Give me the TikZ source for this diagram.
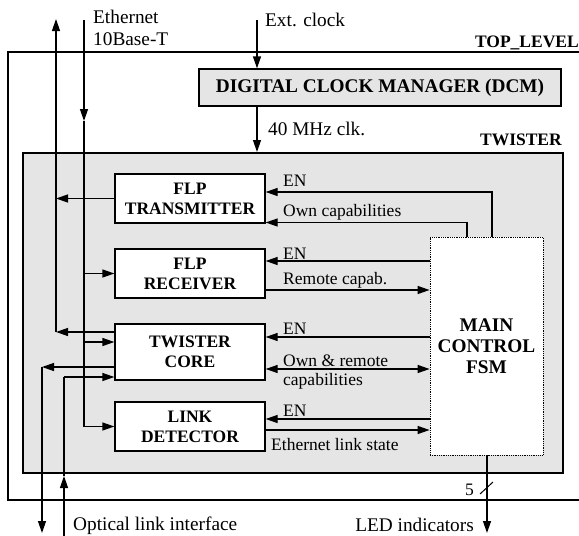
\documentclass[tikz,border=0pt]{standalone}
\usepackage{fontspec}
\setmainfont{Liberation Serif}
\usetikzlibrary{arrows.meta,calc}
\begin{document}
\begin{tikzpicture}[x=1pt,y=-1pt]
\tikzset{
 wire/.style={line width=1.3pt},
 arr/.style={line width=1.3pt,-{Triangle[length=12pt,width=8pt]}},
 dblarr/.style={line width=1.3pt,{Triangle[length=12pt,width=8pt]}-{Triangle[length=12pt,width=8pt]}},
 blk/.style={draw,line width=1.3pt,fill=white,minimum width=150pt,minimum height=49pt,inner sep=0pt,align=center,font=\bfseries\fontsize{17.5}{20}\selectfont},
 big/.style={font=\fontsize{19.3}{22}\selectfont,inner sep=0pt,anchor=base west},
 small/.style={font=\fontsize{17.5}{20}\selectfont,inner sep=0pt,anchor=base west},
 ttl/.style={font=\bfseries\fontsize{17.5}{20}\selectfont,inner sep=0pt,anchor=base east},
}
\useasboundingbox (0,0) rectangle (579,536);
% top level frame
\draw[wire] (581,52) -- (8,52) -- (8,500) -- (581,500);
\node[ttl] (toplbl) at (579,47) {TOP\_LEVEL};
% twister
\node[draw,line width=1.6pt,fill=gray!20,minimum width=540pt,minimum height=320pt,inner sep=0pt,anchor=north west] (TW) at (22,152) {};
\node[ttl] (twlbl) at (562,145.7) {TWISTER};
% DCM
\node[draw,line width=1.3pt,fill=gray!20,minimum width=362pt,minimum height=37pt,inner sep=0pt,font=\bfseries\fontsize{19.3}{22}\selectfont] (DCM) at (380,87.5) {DIGITAL CLOCK MANAGER (DCM)};
% blocks
\node[blk] (TX) at (190,198.5) {FLP\\TRANSMITTER};
\node[blk] (RX) at (190,273.5) {FLP\\RECEIVER};
\node[blk,minimum height=56pt] (CORE) at (190,352) {TWISTER\\CORE};
\node[blk] (LD) at (190,426.5) {LINK\\DETECTOR};
\node[draw,densely dotted,line width=0.8pt,fill=white,minimum width=113pt,minimum height=218pt,inner sep=0pt,align=center,font=\bfseries\fontsize{19.3}{21}\selectfont] (FSM) at (486.5,346) {MAIN\\CONTROL\\FSM};
% coordinates
\coordinate (ext) at (257,20);
\coordinate (ethup) at (56,19);
\coordinate (j1) at (56,332);
\coordinate (ethdn) at (84,20);
\coordinate (ethdnmid) at (84,121);
\coordinate (ethdnend) at (84,427);
\coordinate (o1) at (42,367);
\coordinate (optout) at (42,533);
\coordinate (optin) at (64,536);
\coordinate (optinmid) at (64,476);
\coordinate (o2) at (64,377);
\coordinate (led) at (487,533);
\coordinate (en1) at (492,192);
\coordinate (oc) at (467,222.5);
\coordinate (en2) at (0,261);
\coordinate (rc) at (0,290);
\coordinate (en3) at (0,337);
\coordinate (orc) at (0,369);
\coordinate (en4) at (0,419);
\coordinate (els) at (0,430);
\coordinate (c3) at (0,342);
% clock
\draw[arr] (ext) -- (ext |- DCM.north);
\draw[arr] (ext |- DCM.south) -- (ext |- TW.north);
% ethernet
\draw[arr] (ethdn) -- (ethdnmid);
\draw[wire] (ethdnmid) -- (ethdnend);
\draw[arr] (CORE.west |- j1) -- (j1);
\draw[arr] (j1) -- (ethup);
\draw[arr] (TX.west) -- (TX.west -| ethup);
\draw[arr] (RX.west -| ethdn) -- (RX.west);
\draw[arr] (ethdn |- c3) -- (CORE.west |- c3);
\draw[arr] (LD.west -| ethdn) -- (LD.west);
% optical
\draw[arr] (CORE.west |- o1) -- (o1);
\draw[arr] (o1) -- (optout);
\draw[arr] (optin) -- (optinmid);
\draw[wire] (optinmid) -- (o2);
\draw[arr] (o2) -- (CORE.west |- o2);
% FSM links
\draw[arr] (FSM.north -| en1) -- (en1) -- (TX.east |- en1);
\draw[arr] (FSM.north -| oc) -- (oc) -- (TX.east |- oc);
\draw[arr] (FSM.west |- en2) -- (RX.east |- en2);
\draw[arr] (RX.east |- rc) -- (FSM.west |- rc);
\draw[arr] (FSM.west |- en3) -- (CORE.east |- en3);
\draw[dblarr] (CORE.east |- orc) -- (FSM.west |- orc);
\draw[arr] (FSM.west |- en4) -- (LD.east |- en4);
\draw[arr] (LD.east |- els) -- (FSM.west |- els);
\draw[arr] (FSM.south -| led) -- (led);
\draw[line width=1pt] (480,494) -- (493,482);
% labels
\node[small] (l5) at (465,495.7) {5};
\node[small] (len1) at (283,186.7) {EN};
\node[small] (loc) at (283,216) {Own capabilities};
\node[small] (len2) at (283,259) {EN};
\node[small] (lrc) at (283,284) {Remote capab.};
\node[small] (len3) at (283,334) {EN};
\node[small] (lorc1) at (283,366) {Own \& remote};
\node[small] (lorc2) at (283,385) {capabilities};
\node[small] (len4) at (283,416) {EN};
\node[small] (lels) at (271,450) {Ethernet link state};
\node[big] (leth1) at (93,23.3) {Ethernet};
\node[big] (leth2) at (93,45) {10Base-T};
\node[big] (lext) at (265,26) {Ext. clock};
\node[big] (lclk) at (268,135) {40 MHz clk.};
\node[big] (lopt) at (73,530.5) {Optical link interface};
\node[big,anchor=base east] (lled) at (474,531.5) {LED indicators};
\end{tikzpicture}
\end{document}
